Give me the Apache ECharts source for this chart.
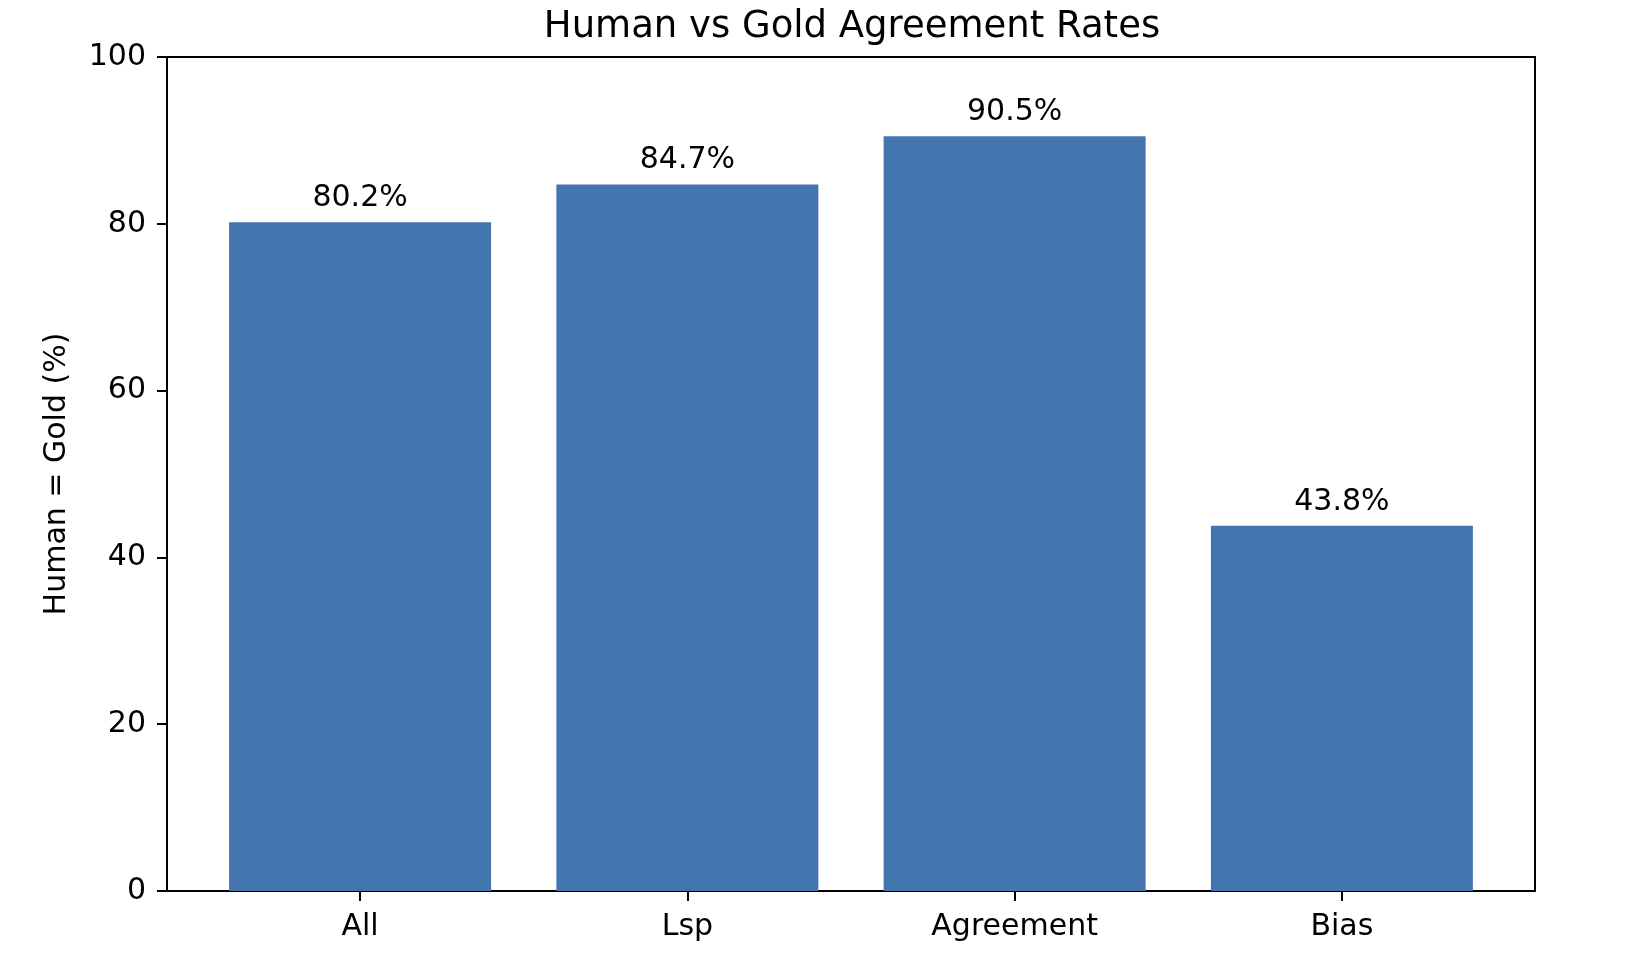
<!DOCTYPE html>
<html>

<head>
    <meta charset="utf-8" />
    <title>ECharts</title>
    <style>
        html, body { margin: 0; padding: 0; background: #fff; }
        .main { width: 1630px; height: 962px; }
    </style>
    <script src="https://cdn.jsdelivr.net/npm/echarts@6/dist/echarts.min.js"></script>
</head>

<body>
    <div class="main"></div>

    <script type="text/javascript">
        // data
        const categories = ['All', 'Lsp', 'Agreement', 'Bias'];
        const rates = [80.2, 84.7, 90.5, 43.8];
        const yTicks = [0, 20, 40, 60, 80, 100];

        const positions = categories.map((c, i) => i);
        const font = 'DejaVu Sans';

        const myChart = echarts.init(document.querySelector('.main'));
        const option = {
            animation: false,
            title: {
                text: 'Human vs Gold Agreement Rates',
                left: 847,
                textAlign: 'center',
                top: 4,
                textStyle: { fontFamily: font, fontSize: 37, fontWeight: 'normal', color: '#000' }
            },
            grid: { left: 167, right: 95, top: 57, bottom: 71 },
            xAxis: [
                {
                    type: 'value',
                    min: -0.59,
                    max: 3.59,
                    splitLine: { show: false },
                    axisLine: { onZero: false, lineStyle: { color: '#000', width: 2 } },
                    axisTick: { show: true, customValues: positions, length: 10, lineStyle: { color: '#000', width: 2 } },
                    axisLabel: {
                        customValues: positions,
                        formatter: v => categories[Math.round(v)],
                        fontFamily: font, fontSize: 30, color: '#000', margin: 21
                    }
                },
                {
                    type: 'value', position: 'top', min: -0.59, max: 3.59,
                    splitLine: { show: false }, axisTick: { show: false }, axisLabel: { show: false },
                    axisLine: { show: true, onZero: false, lineStyle: { color: '#000', width: 2 } }
                }
            ],
            yAxis: [
                {
                    type: 'value',
                    min: 0,
                    max: 100,
                    interval: 20,
                    name: 'Human = Gold (%)',
                    nameLocation: 'middle',
                    nameGap: 95,
                    nameTextStyle: { fontFamily: font, fontSize: 30, color: '#000' },
                    splitLine: { show: false },
                    axisLine: { show: true, onZero: false, lineStyle: { color: '#000', width: 2 } },
                    axisTick: { show: true, length: 10, lineStyle: { color: '#000', width: 2 } },
                    axisLabel: {
                        customValues: yTicks,
                        fontFamily: font, fontSize: 30, color: '#000', margin: 21,
                        padding: [12, 0, 0, 0]
                    }
                },
                {
                    type: 'value', position: 'right', min: 0, max: 100,
                    splitLine: { show: false }, axisTick: { show: false }, axisLabel: { show: false },
                    axisLine: { show: true, onZero: false, lineStyle: { color: '#000', width: 2 } }
                }
            ],
            series: [
                {
                    type: 'bar',
                    barWidth: 262,
                    data: rates.map((v, i) => [positions[i], v]),
                    itemStyle: { color: '#4575af' },
                    label: {
                        show: true,
                        position: 'top',
                        distance: 9,
                        formatter: p => p.value[1].toFixed(1) + '%',
                        fontFamily: font, fontSize: 30, color: '#000'
                    }
                }
            ]
        };
        myChart.setOption(option);
    </script>
</body>

</html>
